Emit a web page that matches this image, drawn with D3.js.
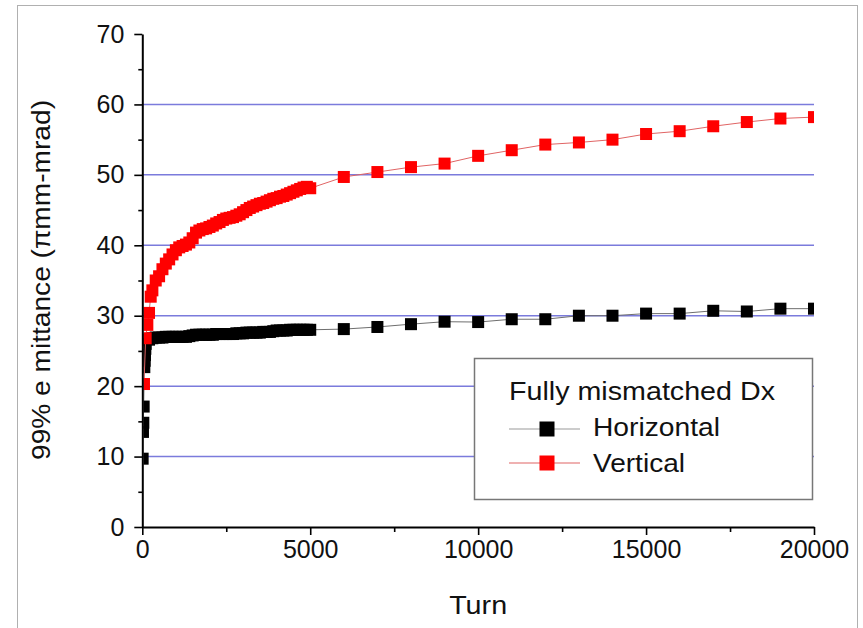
<!DOCTYPE html>
<html><head><meta charset="utf-8">
<script src="https://cdn.jsdelivr.net/npm/d3@7"></script>
<style>
body{margin:0;background:#fff}
svg{display:block}
text{font-family:"Liberation Sans",Arial,Helvetica,sans-serif;fill:#111}
</style>
</head><body>
<svg id="c" width="863" height="628"></svg>
<script>
// ---------- data ----------
const hTurns = [10,20,30,40,60,70,80,90,
  100,200,300,400,500,600,700,800,900,1000,1100,1200,1300,1400,1500,1600,1700,1800,1900,2000,
  2100,2200,2300,2400,2500,2600,2700,2800,2900,3000,3100,3200,3300,3400,3500,3600,3700,3800,3900,4000,
  4100,4200,4300,4400,4500,4600,4700,4800,4900,5000,
  6000,7000,8000,9000,10000,11000,12000,13000,14000,15000,16000,17000,18000,19000,20000];
const hValues = [9.7,13.5,14.8,17.1,22.7,23.6,24.4,25.3,
  26.0,26.6,26.8,26.9,26.9,26.9,27.0,27.0,27.0,27.0,27.0,27.0,27.0,27.1,27.2,27.3,27.3,27.3,27.3,27.3,
  27.3,27.4,27.4,27.4,27.4,27.4,27.4,27.5,27.5,27.5,27.6,27.6,27.6,27.6,27.6,27.7,27.7,27.7,27.8,27.9,
  27.9,27.9,27.9,28.0,28.0,28.0,28.0,28.0,28.0,28.0,
  28.1,28.4,28.8,29.15,29.1,29.5,29.5,30.0,30.0,30.3,30.3,30.7,30.6,31.0,31.0];

const vTurns = [50,100,150,200,250,300,400,500,600,700,800,900,1000,1100,1200,1300,1400,1500,1600,1700,1800,1900,2000,
  2100,2200,2300,2400,2500,2600,2700,2800,2900,3000,3100,3200,3300,3400,3500,3600,3700,3800,3900,4000,
  4100,4200,4300,4400,4500,4600,4700,4800,4900,5000,
  6000,7000,8000,9000,10000,11000,12000,13000,14000,15000,16000,17000,18000,19000,20000];
const vValues = [20.3,26.8,28.7,30.4,32.7,33.6,35.0,35.6,36.6,37.4,38.0,38.7,39.3,39.7,39.9,40.1,40.4,41.0,41.8,42.1,42.3,42.4,42.6,
  42.8,43.1,43.3,43.6,43.8,43.9,44.0,44.2,44.4,44.7,45.0,45.3,45.5,45.7,45.9,46.0,46.2,46.4,46.6,46.7,
  46.9,47.0,47.2,47.4,47.6,47.8,48.0,48.2,48.3,48.1,
  49.7,50.4,51.1,51.6,52.7,53.5,54.3,54.6,55.0,55.8,56.2,56.9,57.5,58.0,58.2];

const yTicks = [0,10,20,30,40,50,60,70];
const yMinorTicks = [5,15,25,35,45,55,65];
const xTicks = [0,5000,10000,15000,20000];
const xMinorTicks = [2500,7500,12500,17500];
const gridValues = [10,20,30,40,50,60];

const seriesNames = ["Horizontal","Vertical"];
const legendTitle = "Fully mismatched Dx";
const xTitle = "Turn";
const yTitle = "99% e mittance (\u03c0mm-mrad)";

// ---------- drawing ----------
const svg = d3.select('#c');
const x = d3.scaleLinear().domain([0,20000]).range([142.3,814]);
const y = d3.scaleLinear().domain([0,70]).range([527,34]);

// outer frame
svg.append('rect').attr('x',17.5).attr('y',5.5).attr('width',840).attr('height',650)
  .attr('fill','none').attr('stroke','#b0b0b0').attr('stroke-width',1);

// grid
svg.append('g').selectAll('line').data(gridValues).join('line')
  .attr('x1',x(0)).attr('x2',x(20000))
  .attr('y1',d=>y(d)).attr('y2',d=>y(d))
  .attr('stroke','#7b7bdc').attr('stroke-width',1.5);

// clip
svg.append('defs').append('clipPath').attr('id','plotclip')
  .append('rect').attr('x',x(0)+1.2).attr('y',y(70)).attr('width',x(20000)-x(0)-1.2).attr('height',y(0)-y(70));

const plot = svg.append('g').attr('clip-path','url(#plotclip)');
const hData = hTurns.map((t,i)=>({t, v:hValues[i]}));
const vData = vTurns.map((t,i)=>({t, v:vValues[i]}));
const line = d3.line().x(d=>x(d.t)).y(d=>y(d.v));
const ms = 12;

plot.append('path').datum(hData).attr('d',line).attr('fill','none').attr('stroke','#6e6e6e').attr('stroke-width',1);
plot.append('g').selectAll('rect').data(hData).join('rect')
  .attr('x',d=>x(d.t)-ms/2).attr('y',d=>y(d.v)-ms/2).attr('width',ms).attr('height',ms).attr('fill','#000');

plot.append('path').datum(vData).attr('d',line).attr('fill','none').attr('stroke','#e06464').attr('stroke-width',1);
plot.append('g').selectAll('rect').data(vData).join('rect')
  .attr('x',d=>x(d.t)-ms/2).attr('y',d=>y(d.v)-ms/2).attr('width',ms).attr('height',ms).attr('fill','#ff0000');

// axes
const gy = svg.append('g').attr('transform',`translate(${x(0)},0)`)
  .call(d3.axisLeft(y).tickValues(yTicks).tickFormat(d3.format('d')).tickSize(8).tickPadding(10).tickSizeOuter(0));
const gyMinor = svg.append('g').attr('transform',`translate(${x(0)},0)`)
  .call(d3.axisLeft(y).tickValues(yMinorTicks).tickSize(4).tickFormat('').tickSizeOuter(0));
gyMinor.select('.domain').remove();
const gx = svg.append('g').attr('transform',`translate(0,${y(0)})`)
  .call(d3.axisBottom(x).tickValues(xTicks).tickFormat(d3.format('d')).tickSize(8).tickPadding(5).tickSizeOuter(0));
const gxMinor = svg.append('g').attr('transform',`translate(0,${y(0)})`)
  .call(d3.axisBottom(x).tickValues(xMinorTicks).tickSize(5).tickFormat('').tickSizeOuter(0));
gxMinor.select('.domain').remove();

[gy,gx].forEach(g=>{
  g.select('.domain').attr('stroke','#000').attr('stroke-width',2);
  g.selectAll('.tick text').attr('font-size',25).attr('fill','#111')
    .style('font-family','"Liberation Sans",Arial,sans-serif');
});
[gy,gx,gyMinor,gxMinor].forEach(g=>g.selectAll('.tick line').attr('stroke','#000').attr('stroke-width',1.6));

// axis titles
svg.append('text').attr('x',x(10000)).attr('y',614).attr('text-anchor','middle')
  .attr('font-size',25).attr('textLength',58).attr('lengthAdjust','spacingAndGlyphs').text(xTitle);
svg.append('text').attr('transform','translate(50,280) rotate(-90)').attr('text-anchor','middle')
  .attr('font-size',25).attr('textLength',360).attr('lengthAdjust','spacingAndGlyphs').text(yTitle);

// legend
const lg = svg.append('g');
lg.append('rect').attr('x',474.5).attr('y',358.5).attr('width',338).attr('height',141)
  .attr('fill','#fff').attr('stroke','#777').attr('stroke-width',1.5);
lg.append('text').attr('x',509).attr('y',400).attr('font-size',25)
  .attr('textLength',266).attr('lengthAdjust','spacingAndGlyphs').text(legendTitle);
const legendItems = [
  {name:seriesNames[0], line:'#9a9a9a', fill:'#000', cy:429, ty:436, len:127},
  {name:seriesNames[1], line:'#e06464', fill:'#ff0000', cy:463, ty:472, len:92}
];
legendItems.forEach(it=>{
  lg.append('line').attr('x1',509).attr('x2',580).attr('y1',it.cy).attr('y2',it.cy)
    .attr('stroke',it.line).attr('stroke-width',1.2);
  lg.append('rect').attr('x',547-7.5).attr('y',it.cy-7.5).attr('width',15).attr('height',15).attr('fill',it.fill);
  lg.append('text').attr('x',593).attr('y',it.ty).attr('font-size',25)
    .attr('textLength',it.len).attr('lengthAdjust','spacingAndGlyphs').text(it.name);
});
</script>
</body></html>
